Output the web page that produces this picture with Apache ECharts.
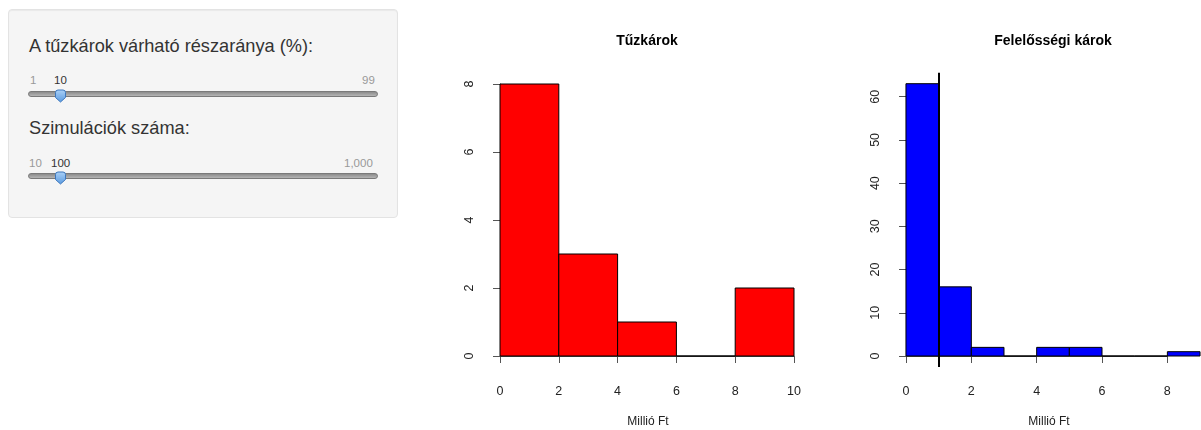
<!DOCTYPE html>
<html>
<head>
<meta charset="utf-8">
<title>Kárszimuláció</title>
<script src="https://cdn.jsdelivr.net/npm/echarts@6/dist/echarts.min.js"></script>
<style>
html, body { margin: 0; background: #fff; font-family: "Liberation Sans", Arial, sans-serif; overflow: hidden; }
#container { position: absolute; left: 0; top: 0; width: 1220px; height: 430px; }
.well { position: absolute; left: 8px; top: 9px; width: 388px; height: 207px; background: #f5f5f5;
  border: 1px solid #e3e3e3; border-radius: 4px; box-shadow: inset 0 1px 1px rgba(0,0,0,.05); z-index: 2; }
.ctl { position: absolute; z-index: 3; white-space: nowrap; }
.label { font-size: 18.2px; line-height: 20px; color: #333; left: 29px; }
.num { font-size: 11.5px; line-height: 13px; color: #999; }
.num.val { color: #333; }
.track { left: 28px; width: 348px; height: 4px; background: linear-gradient(#8c8c8c, #b5b5b5);
  border: 1px solid #7a7a7a; border-radius: 3px; }
.handle { left: 54px; width: 13px; height: 14px; }
</style>
</head>
<body>
<div id="container"></div>

<div class="well"></div>
<div class="ctl label" style="top:36px">A tűzkárok várható részaránya (%):</div>
<div class="ctl num" style="top:74px; left:30px">1</div>
<div class="ctl num val" style="top:74px; left:54px">10</div>
<div class="ctl num" style="top:74px; left:362px">99</div>
<div class="ctl track" style="top:91px"></div>
<svg class="ctl handle" style="top:89px" viewBox="0 0 13 14"><defs><linearGradient id="hg" x1="0" y1="0" x2="0" y2="1"><stop offset="0" stop-color="#a9d0f7"/><stop offset="1" stop-color="#5b9be0"/></linearGradient></defs><path d="M1.5,3.5 Q1.5,1 4,1 L9,1 Q11.5,1 11.5,3.5 L11.5,8.5 L6.5,13 L1.5,8.5 Z" fill="url(#hg)" stroke="#3d77bd" stroke-width="1"/></svg>

<div class="ctl label" style="top:118px">Szimulációk száma:</div>
<div class="ctl num" style="top:157px; left:29px">10</div>
<div class="ctl num val" style="top:157px; left:51px">100</div>
<div class="ctl num" style="top:157px; left:344px">1,000</div>
<div class="ctl track" style="top:173px"></div>
<svg class="ctl handle" style="top:171px" viewBox="0 0 13 14"><path d="M1.5,3.5 Q1.5,1 4,1 L9,1 Q11.5,1 11.5,3.5 L11.5,8.5 L6.5,13 L1.5,8.5 Z" fill="url(#hg)" stroke="#3d77bd" stroke-width="1"/></svg>

<script>
// histogram data (bin breaks and counts)
var fireBreaks = [0, 2, 4, 6, 8, 10];
var fireCounts = [8, 3, 1, 0, 2];
var liabBreaks = [0, 1, 2, 3, 4, 5, 6, 7, 8, 9];
var liabCounts = [63, 16, 2, 0, 2, 2, 0, 0, 1];
var liabLimit = 1;

var titles = ['Tűzkárok', 'Felelősségi károk'];
var xName = 'Millió Ft';

var dom = document.getElementById('container');
var myChart = echarts.init(dom);

function bins(breaks, counts) {
    return counts.map(function (c, i) { return [breaks[i], breaks[i + 1], c]; });
}

function histItem(fill) {
    return function (params, api) {
        var p0 = api.coord([api.value(0), api.value(2)]);
        var p1 = api.coord([api.value(1), 0]);
        return {
            type: 'rect',
            shape: { x: p0[0], y: p0[1], width: p1[0] - p0[0], height: p1[1] - p0[1] },
            style: { fill: fill, stroke: '#000', lineWidth: 1 }
        };
    };
}

var font = '"Liberation Sans", Arial, sans-serif';
var axisLine = { show: true, lineStyle: { color: '#555', width: 1 } };
var axisTick = { show: true, length: 7, lineStyle: { color: '#555' } };

function xAx(grid, max) {
    return {
        type: 'value', gridIndex: grid, min: 0, max: max, interval: 2, position: 'bottom',
        offset: 11, splitLine: { show: false },
        axisLine: axisLine, axisTick: axisTick,
        axisLabel: { color: '#222', fontSize: 12.5, fontFamily: font, margin: 18 }
    };
}
function yAx(grid, max, interval) {
    return {
        type: 'value', gridIndex: grid, min: 0, max: max, interval: interval, position: 'left',
        offset: 11, splitLine: { show: false },
        axisLine: axisLine, axisTick: axisTick,
        axisLabel: { color: '#222', fontSize: 12.5, fontFamily: font, margin: 13, rotate: 90 }
    };
}

var liabMax = 63;
option = null;
option = {
    animation: false,
    grid: [
        { left: 500, top: 84, width: 294, height: 272 },
        { left: 906, top: 96.7, width: 261.3, height: 259.3 },
        { left: 894.2, top: 72.8, width: 317.6, height: 294.1 }
    ],
    xAxis: [
        xAx(0, 10),
        xAx(1, 8),
        { type: 'value', gridIndex: 2, min: -0.36, max: 9.36, show: false }
    ],
    yAxis: [
        yAx(0, 8, 2),
        yAx(1, 60, 10),
        { type: 'value', gridIndex: 2, min: -liabMax * 0.04, max: liabMax * 1.04, show: false }
    ],
    graphic: [
        { type: 'text', x: 647, y: 41, style: { text: titles[0], font: 'bold 14px ' + font, fill: '#000', align: 'center', verticalAlign: 'middle', textAlign: 'center', textVerticalAlign: 'middle' } },
        { type: 'text', x: 1053, y: 41, style: { text: titles[1], font: 'bold 14px ' + font, fill: '#000', align: 'center', verticalAlign: 'middle', textAlign: 'center', textVerticalAlign: 'middle' } },
        { type: 'text', x: 648, y: 422, style: { text: xName, font: '12px ' + font, fill: '#222', align: 'center', verticalAlign: 'middle', textAlign: 'center', textVerticalAlign: 'middle' } },
        { type: 'text', x: 1049, y: 422, style: { text: xName, font: '12px ' + font, fill: '#222', align: 'center', verticalAlign: 'middle', textAlign: 'center', textVerticalAlign: 'middle' } }
    ],
    series: [
        {
            name: titles[0], type: 'custom', xAxisIndex: 0, yAxisIndex: 0,
            renderItem: histItem('#ff0000'), data: bins(fireBreaks, fireCounts)
        },
        {
            name: titles[1], type: 'custom', xAxisIndex: 2, yAxisIndex: 2,
            renderItem: histItem('#0000ff'), data: bins(liabBreaks, liabCounts),
            markLine: {
                silent: true, symbol: 'none', label: { show: false },
                lineStyle: { color: '#000', width: 2, type: 'solid' },
                data: [{ xAxis: liabLimit }]
            }
        }
    ]
};
if (option && typeof option === "object") {
    myChart.setOption(option, true);
}
</script>
</body>
</html>
